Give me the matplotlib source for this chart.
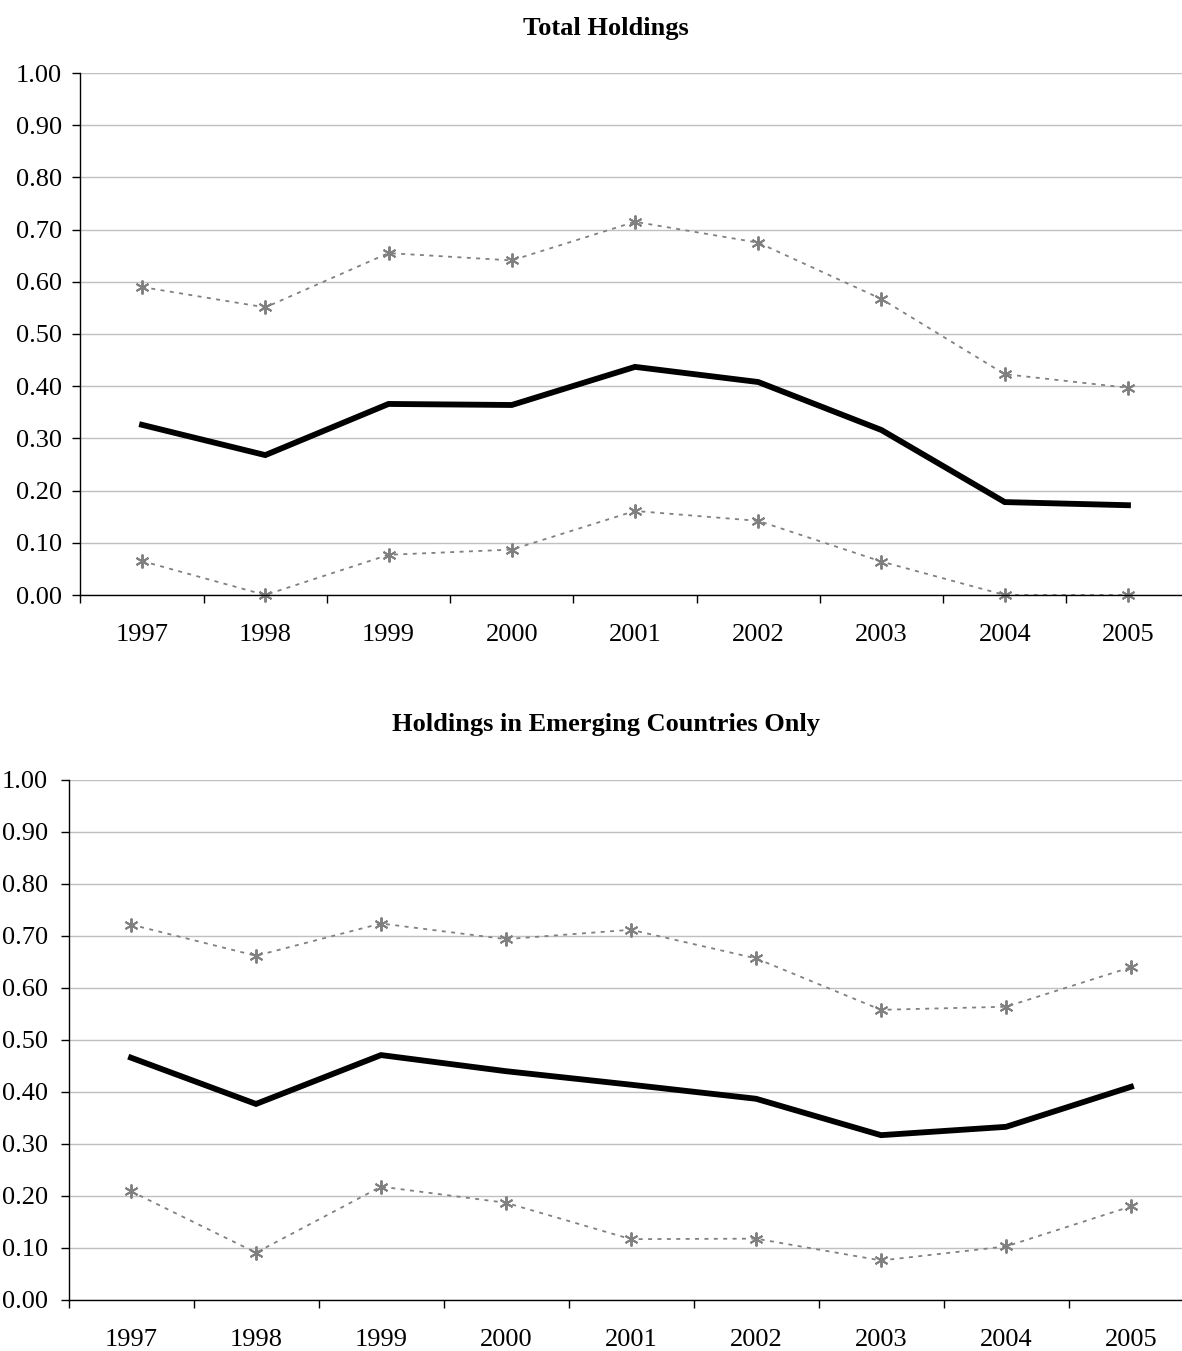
import matplotlib
matplotlib.use("Agg")
import matplotlib.pyplot as plt
import numpy as np

years = ["1997", "1998", "1999", "2000", "2001", "2002", "2003", "2004", "2005"]

total_upper = [0.590, 0.551, 0.655, 0.641, 0.715, 0.675, 0.567, 0.423, 0.397]
total_mid = [0.326, 0.268, 0.366, 0.364, 0.437, 0.408, 0.316, 0.178, 0.172]
total_lower = [0.065, 0.000, 0.077, 0.087, 0.161, 0.142, 0.064, 0.000, 0.000]

emerg_upper = [0.722, 0.662, 0.724, 0.694, 0.712, 0.657, 0.558, 0.564, 0.640]
emerg_mid = [0.466, 0.377, 0.471, 0.440, 0.414, 0.387, 0.317, 0.333, 0.410]
emerg_lower = [0.209, 0.091, 0.218, 0.187, 0.117, 0.118, 0.076, 0.103, 0.180]

titles = ["Total Holdings", "Holdings in Emerging Countries Only"]

plt.rcParams['font.family'] = ['Liberation Serif', 'DejaVu Serif']

W, H = 1182, 1351
fig = plt.figure(figsize=(W / 100, H / 100), dpi=100)

# axes boxes in pixels: left, right, top(1.0), bottom(0.0)
boxes = [(80.4, 1189.6, 73, 595), (68.5, 1193.5, 780, 1300)]
ypads = [7.5, 9]
title_y = [28, 724]
datasets = [(total_upper, total_mid, total_lower), (emerg_upper, emerg_mid, emerg_lower)]

x = np.arange(len(years))
for (l, r, t, b), yp, ty, (up, mid, lo), title in zip(boxes, ypads, title_y, datasets, titles):
    ax = fig.add_axes([l / W, 1 - b / H, (r - l) / W, (b - t) / H])
    ax.set_xlim(-0.5, len(years) - 0.5)
    ax.set_ylim(0, 1.0)
    ax.set_yticks(np.arange(0, 1.01, 0.1))
    ax.set_yticklabels([f"{v:.2f}" for v in np.arange(0, 1.01, 0.1)])
    ax.yaxis.grid(True, color='#c0c0c0', linewidth=1.0)
    ax.set_axisbelow(True)
    ax.set_xticks(np.arange(-0.5, len(years) - 0.4, 1.0))
    ax.set_xticklabels([])
    ax.set_xticks(x, minor=True)
    ax.set_xticklabels(years, minor=True)
    ax.tick_params(axis='x', which='major', direction='out', length=6, width=1, color='black')
    ax.tick_params(axis='x', which='minor', length=0, pad=21, labelsize=19)
    ax.tick_params(axis='y', direction='out', length=6, width=1, pad=yp, labelsize=19)
    for s in ['top', 'right']:
        ax.spines[s].set_visible(False)
    for s in ['left', 'bottom']:
        ax.spines[s].set_linewidth(1.0)
        ax.spines[s].set_color('black')
    for series in (up, lo):
        ax.plot(x, series, color='#808080', linestyle=(0, (2.2, 3)), linewidth=1.3,
                marker=(6, 2, 0), markersize=10, markeredgewidth=1.4, clip_on=False)
    ax.plot(x, mid, color='black', linewidth=4.2, solid_joinstyle='miter', clip_on=False)
    fig.text(606 / W, 1 - ty / H, title, ha='center', va='center', fontsize=19, fontweight='bold')

fig.savefig("out.png", dpi=100)
